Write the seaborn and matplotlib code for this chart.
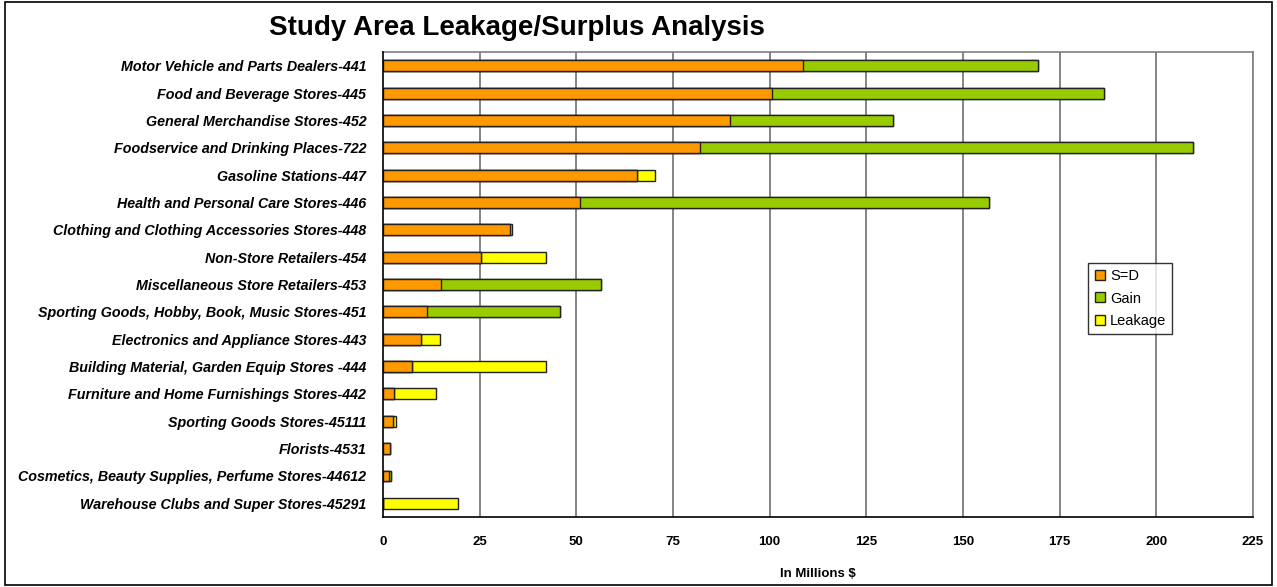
import matplotlib
matplotlib.use("Agg")
import matplotlib.pyplot as plt
import seaborn as sns
import pandas as pd
import numpy as np
from matplotlib.patches import Rectangle
from matplotlib.lines import Line2D

categories = [
    "Motor Vehicle and Parts Dealers-441",
    "Food and Beverage Stores-445",
    "General Merchandise Stores-452",
    "Foodservice and Drinking Places-722",
    "Gasoline Stations-447",
    "Health and Personal Care Stores-446",
    "Clothing and Clothing Accessories Stores-448",
    "Non-Store Retailers-454",
    "Miscellaneous Store Retailers-453",
    "Sporting Goods, Hobby, Book, Music Stores-451",
    "Electronics and Appliance Stores-443",
    "Building Material, Garden Equip Stores -444",
    "Furniture and Home Furnishings Stores-442",
    "Sporting Goods Stores-45111",
    "Florists-4531",
    "Cosmetics, Beauty Supplies, Perfume Stores-44612",
    "Warehouse Clubs and Super Stores-45291",
]
sd = [108.6, 100.6, 89.7, 82.1, 65.7, 50.9, 32.8, 25.3, 15.1, 11.3, 9.8, 7.5, 2.9, 2.6, 1.8, 1.5, 0.0]
gain = [60.9, 85.8, 42.2, 127.5, 0.0, 105.7, 0.0, 0.0, 41.3, 34.6, 0.0, 0.0, 0.0, 0.0, 0.0, 0.6, 0.0]
leakage = [0.0, 0.0, 0.0, 0.0, 4.6, 0.0, 0.6, 16.8, 0.0, 0.0, 4.9, 34.7, 10.8, 0.8, 0.0, 0.0, 19.5]
series_names = ["S=D", "Gain", "Leakage"]
x_ticks = [0, 25, 50, 75, 100, 125, 150, 175, 200, 225]

c_sd = "#FF9900"
c_gain = "#99CC00"
c_leak = "#FFFF00"

df = pd.DataFrame({"cat": categories, "sd": sd, "gain": gain, "leak": leakage})
df["c1"] = df["sd"]
df["c2"] = df["sd"] + df["gain"]
df["c3"] = df["sd"] + df["gain"] + df["leak"]

sns.set_style("white")
plt.rcParams["font.family"] = ["Liberation Sans", "DejaVu Sans"]
plt.rcParams["text.color"] = "black"
plt.rcParams["axes.labelcolor"] = "black"
plt.rcParams["xtick.color"] = "black"
plt.rcParams["ytick.color"] = "black"

fig = plt.figure(figsize=(12.77, 5.87), dpi=100)
ax = fig.add_axes([383 / 1277, 1 - 517 / 587, (1253 - 383) / 1277, (517 - 52) / 587])

kw = dict(orient="h", order=categories, width=0.4, edgecolor="#222222", linewidth=1.0, ax=ax, zorder=3)
sns.barplot(data=df, x="c3", y="cat", color=c_leak, saturation=1, **kw)
sns.barplot(data=df, x="c2", y="cat", color=c_gain, saturation=1, **kw)
sns.barplot(data=df, x="c1", y="cat", color=c_sd, saturation=1, **kw)

ax.set_xlim(0, 225)
ax.set_ylim(16.5, -0.5)
ax.set_xticks(x_ticks)
ax.set_xticklabels([str(t) for t in x_ticks], fontsize=9.5, fontweight="bold")
ax.set_yticks(range(len(categories)))
ax.set_yticklabels(categories, fontsize=10.3, fontweight="bold", style="italic")
ax.set_yticks(np.arange(-0.5, 17, 1), minor=True)
ax.tick_params(axis="y", which="major", length=0, pad=12)
ax.tick_params(axis="y", which="minor", length=5, width=1, color="black", direction="out")
ax.tick_params(axis="x", which="major", length=5, width=1, color="black", direction="out", pad=9)
ax.set_ylabel("")
ax.set_xlabel("In Millions $", fontsize=9.5, fontweight="bold", labelpad=14)

ax.grid(False)
for t in x_ticks[1:]:
    ax.axvline(t, color="#707070", linewidth=1.2, zorder=1)
for s in ["top", "right"]:
    ax.spines[s].set_color("#808080")
    ax.spines[s].set_linewidth(1.2)
for s in ["left", "bottom"]:
    ax.spines[s].set_color("black")
    ax.spines[s].set_linewidth(1.2)
    ax.spines[s].set_zorder(4)

fig.text(0.405, 0.952, "Study Area Leakage/Surplus Analysis", ha="center", va="center",
         fontsize=20, fontweight="bold")

handles = [Line2D([0], [0], marker="s", linestyle="none", markersize=7.5,
                  markerfacecolor=c, markeredgecolor="#222222", markeredgewidth=1)
           for c in [c_sd, c_gain, c_leak]]
leg = fig.legend(handles, series_names, loc="upper left",
                 bbox_to_anchor=(1088 / 1277, 1 - 263 / 587),
                 frameon=True, fancybox=False, fontsize=10.5, handletextpad=0.2,
                 handlelength=0.9, labelspacing=0.6, borderpad=0.4, borderaxespad=0)
leg.get_frame().set_edgecolor("black")
leg.get_frame().set_linewidth(1.0)

fig.patches.append(Rectangle((0.004, 0.004), 0.992, 0.992, transform=fig.transFigure,
                             fill=False, edgecolor="black", linewidth=1.2))

fig.savefig("out.png", dpi=100)
